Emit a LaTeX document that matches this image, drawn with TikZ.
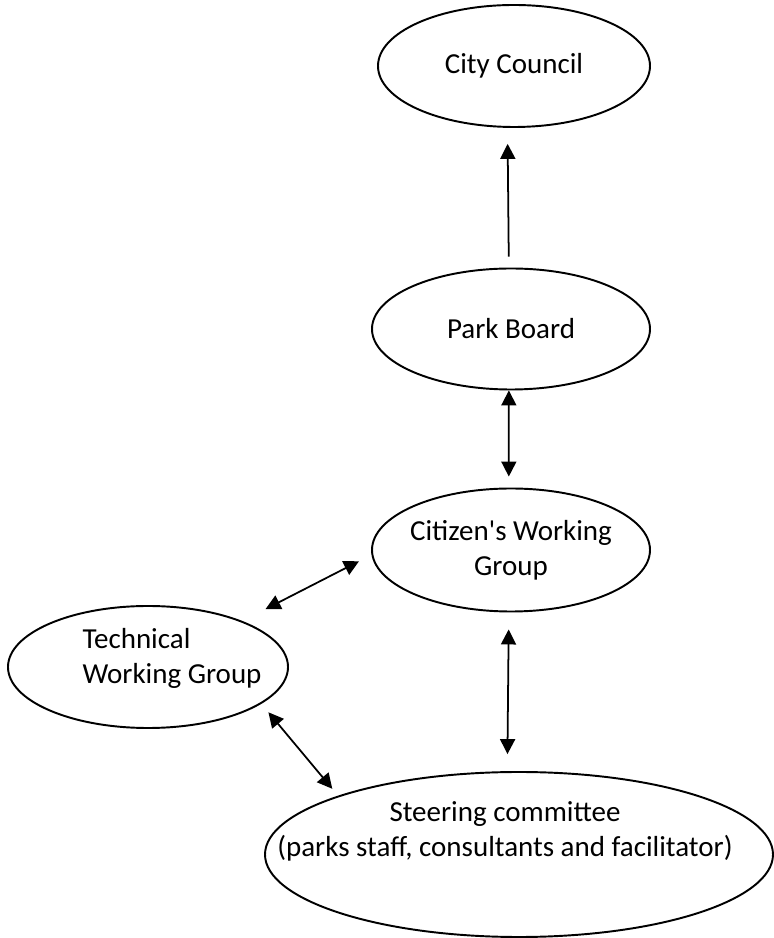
\documentclass[tikz,border=0pt]{standalone}
\usepackage{fontspec}
\setmainfont{Carlito}
\usetikzlibrary{shapes.geometric, arrows.meta}

\begin{document}
\begin{tikzpicture}[>={Triangle[length=3mm, width=3mm]},
		bubble/.style={ellipse, draw, line width=1.1pt, inner sep=0pt, font=\fontsize{16.5pt}{20pt}\selectfont},
		txt/.style={font=\fontsize{16.5pt}{20pt}\selectfont, align=center},
		link/.style={line width=1pt}]
			\useasboundingbox (0,0) rectangle (15.48,18.76);

			% ellipses
			\node[bubble, minimum width=5.44cm, minimum height=2.44cm] (council) at (10.28,17.44) {City Council};
			\node[bubble, minimum width=5.56cm, minimum height=2.42cm] (park) at (10.22,12.18) {Park Board};
			\node[bubble, minimum width=5.56cm, minimum height=2.46cm, label={[txt]center:{Citizen\textquotesingle s Working\\Group}}] (citizen) at (10.22,7.76) {};
			\node[bubble, minimum width=5.6cm, minimum height=2.44cm, label={[txt, align=left, xshift=0.48cm, yshift=0.17cm]center:{Technical\\Working Group}}] (technical) at (2.96,5.42) {};
			\node[bubble, minimum width=10.16cm, minimum height=3.3cm, label={[txt, xshift=-0.28cm, yshift=0.47cm]center:{Steering committee\\(parks staff, consultants and facilitator)}}] (steering) at (10.38,1.67) {};

			% arrows
			\draw[link, ->, shorten <=0.22cm, shorten >=0.32cm] (park.92) -- (council.264);
			\draw[link, <->, shorten >=0.22cm] (park.268) -- (citizen.92);
			\draw[link, <->, shorten <=0.28cm, shorten >=0.52cm] (citizen.182) -- (technical.26);
			\draw[link, <->, shorten <=0.34cm, shorten >=0.34cm] (citizen.268) -- (steering.98);
			\draw[link, <->, shorten <=0.22cm, shorten >=0.18cm] (technical.-18) -- (steering.162);
		\end{tikzpicture}
\end{document}
